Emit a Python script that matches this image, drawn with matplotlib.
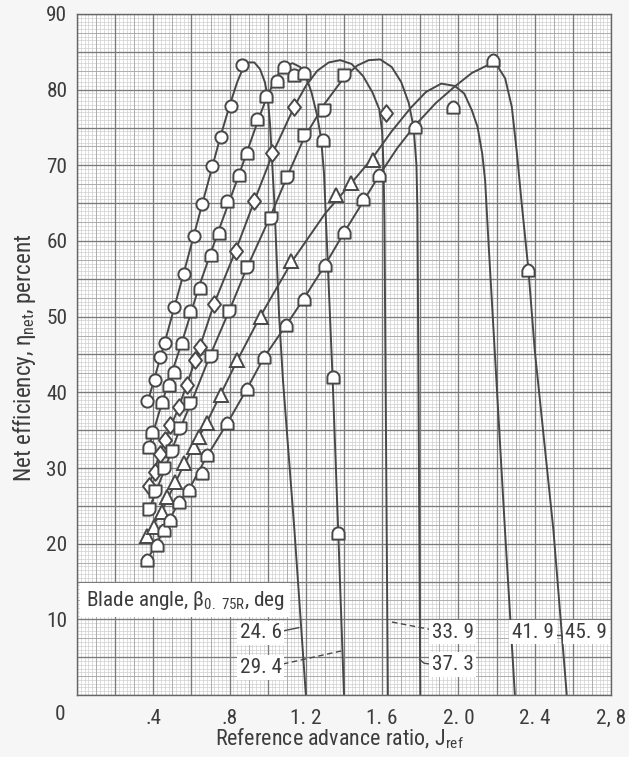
import numpy as np
import matplotlib
matplotlib.use("Agg")
import matplotlib.pyplot as plt
from matplotlib.path import Path
from matplotlib import font_manager

# ---------------------------------------------------------------- data
blade_angles = ["24. 6", "29. 4", "33. 9", "37. 3", "41. 9", "45. 9"]

# measured points (J_ref, eta_net %)
pts_246_x = [0.367, 0.41, 0.437, 0.463, 0.507, 0.56, 0.612, 0.656, 0.709, 0.753, 0.805, 0.867]
pts_246_y = [38.8, 41.6, 44.7, 46.5, 51.3, 55.6, 60.7, 64.9, 69.9, 73.8, 77.9, 83.3]

pts_294_x = [0.375, 0.393, 0.446, 0.481, 0.507, 0.551, 0.595, 0.643, 0.70, 0.744, 0.788,
             0.849, 0.893, 0.946, 0.99, 1.05, 1.086, 1.14, 1.19, 1.288, 1.34, 1.37]
pts_294_y = [32.8, 34.8, 38.7, 41.0, 42.7, 46.5, 50.7, 53.8, 58.2, 61.1, 65.3,
             68.7, 71.6, 76.1, 79.1, 81.1, 83.0, 81.9, 82.2, 73.3, 42.0, 21.4]

pts_339_x = [0.375, 0.41, 0.437, 0.463, 0.489, 0.533, 0.577, 0.621, 0.644, 0.718, 0.832,
             0.928, 1.025, 1.14, 1.62]
pts_339_y = [27.6, 29.5, 31.9, 33.7, 35.7, 38.1, 41.0, 44.3, 46.0, 51.7, 58.7,
             65.3, 71.6, 77.7, 76.9]

pts_373_x = [0.375, 0.41, 0.454, 0.498, 0.542, 0.595, 0.70, 0.796, 0.893, 1.016, 1.10,
             1.19, 1.296, 1.40]
pts_373_y = [24.6, 27.0, 30.0, 32.2, 35.3, 38.6, 44.8, 50.7, 56.5, 63.0, 68.5,
             74.0, 77.3, 81.9]

pts_419_x = [0.367, 0.402, 0.446, 0.472, 0.516, 0.56, 0.612, 0.638, 0.683, 0.753, 0.84,
             0.963, 1.12, 1.358, 1.437, 1.55]
pts_419_y = [21.0, 22.2, 24.2, 26.2, 28.2, 30.6, 32.8, 34.1, 35.9, 39.6, 44.3,
             50.0, 57.3, 66.1, 67.6, 70.7]

pts_459_x = [0.367, 0.419, 0.454, 0.489, 0.533, 0.586, 0.656, 0.683, 0.788, 0.893, 0.98,
             1.095, 1.19, 1.30, 1.40, 1.50, 1.586, 1.77, 1.97, 2.18, 2.367]
pts_459_y = [17.8, 19.8, 21.8, 23.1, 25.5, 27.1, 29.3, 31.7, 35.9, 40.4, 44.7,
             48.9, 52.4, 56.8, 61.2, 65.6, 68.7, 75.1, 77.7, 83.9, 56.2]

# faired curves
fair_246_x = [0.367, 0.46, 0.56, 0.66, 0.75, 0.80, 0.84, 0.87, 0.90, 0.93, 0.96, 0.985,
              1.00, 1.012, 1.022, 1.035, 1.06, 1.08, 1.14, 1.20]
fair_246_y = [38.4, 46.6, 55.8, 65.2, 73.6, 77.9, 81.0, 82.8, 83.6, 83.6, 82.7, 81.0,
              79.0, 75.5, 71.0, 65.0, 50.0, 41.6, 21.8, 0.0]

fair_294_x = [0.375, 0.45, 0.55, 0.64, 0.74, 0.85, 0.95, 1.00, 1.05, 1.09, 1.13, 1.17,
              1.20, 1.23, 1.26, 1.28, 1.295, 1.31, 1.34, 1.37, 1.40]
fair_294_y = [32.6, 39.0, 46.6, 54.0, 61.2, 68.8, 76.0, 79.3, 81.8, 83.1, 83.5, 83.0,
              81.8, 79.6, 76.5, 73.5, 69.0, 60.0, 42.0, 21.4, 0.0]

fair_339_x = [0.375, 0.45, 0.53, 0.62, 0.72, 0.83, 0.93, 1.03, 1.14, 1.20, 1.26, 1.32,
              1.38, 1.44, 1.50, 1.55, 1.585, 1.60, 1.607, 1.612, 1.63]
fair_339_y = [27.6, 33.0, 37.8, 44.2, 51.8, 58.6, 65.3, 71.8, 77.8, 80.5, 82.5, 83.6,
              83.9, 83.4, 81.8, 79.6, 77.4, 74.5, 70.0, 63.0, 0.0]

fair_373_x = [0.375, 0.45, 0.54, 0.60, 0.70, 0.80, 0.89, 1.02, 1.10, 1.19, 1.30, 1.40,
              1.47, 1.53, 1.59, 1.65, 1.70, 1.74, 1.765, 1.78, 1.785, 1.80]
fair_373_y = [24.4, 29.2, 35.2, 38.7, 45.0, 50.9, 56.4, 63.6, 68.4, 73.6, 78.2, 81.6,
              83.2, 83.9, 84.0, 83.0, 81.0, 78.2, 75.0, 70.0, 64.0, 0.0]

fair_419_x = [0.367, 0.45, 0.56, 0.68, 0.84, 0.96, 1.13, 1.30, 1.45, 1.55, 1.65, 1.75,
              1.83, 1.91, 1.98, 2.03, 2.07, 2.10, 2.125, 2.14, 2.155, 2.19, 2.244, 2.296]
fair_419_y = [21.0, 24.6, 30.4, 36.0, 44.2, 50.0, 57.4, 63.6, 68.0, 71.0, 74.5, 77.6,
              79.7, 80.8, 80.5, 79.5, 77.3, 75.1, 71.5, 68.0, 61.0, 45.6, 21.8, 0.0]

fair_459_x = [0.367, 0.45, 0.53, 0.59, 0.68, 0.79, 0.89, 0.98, 1.10, 1.19, 1.30, 1.40,
              1.50, 1.59, 1.68, 1.77, 1.88, 1.98, 2.07, 2.15, 2.20, 2.245, 2.28, 2.305,
              2.33, 2.367, 2.40, 2.498, 2.568]
fair_459_y = [17.8, 21.5, 25.3, 27.3, 31.5, 36.0, 40.4, 44.6, 49.0, 52.4, 56.8, 61.1,
              65.2, 68.9, 72.3, 75.2, 78.2, 80.4, 82.2, 83.2, 83.3, 81.5, 77.7, 72.0,
              65.4, 56.2, 45.6, 21.8, 0.0]

x_tick_vals = [0.4, 0.8, 1.2, 1.6, 2.0, 2.4, 2.8]
x_tick_text = [".4", ".8", "1. 2", "1. 6", "2. 0", "2. 4", "2, 8"]
y_tick_vals = [10, 20, 30, 40, 50, 60, 70, 80, 90]

# ---------------------------------------------------------------- fonts
ttf = font_manager.fontManager.ttflist
names = {f.name for f in ttf}
if "Liberation Sans Narrow" in names:
    FONT, STRETCH, K = "Liberation Sans Narrow", "normal", 1.0
elif "Roboto Condensed" in names:
    FONT, STRETCH, K = "Roboto Condensed", "normal", 1.07
elif any(f.name == "Roboto" and f.stretch == "condensed" for f in ttf):
    FONT, STRETCH, K = "Roboto", "condensed", 1.07
elif any(f.name == "DejaVu Sans" and f.stretch == "condensed" for f in ttf):
    FONT, STRETCH, K = "DejaVu Sans", "condensed", 0.95
else:
    FONT, STRETCH, K = "Liberation Sans", "normal", 0.93
FS = 14.3 * K        # tick labels and curve labels
FS_AX = 14.8 * K     # x-axis title
FS_Y = 15.6 * K      # y-axis title

plt.rcParams["font.family"] = [FONT, "DejaVu Sans"]
plt.rcParams["font.stretch"] = STRETCH
plt.rcParams["mathtext.fontset"] = "custom"
mt = FONT if STRETCH == "normal" else f"{FONT}:stretch={STRETCH}"
plt.rcParams["mathtext.rm"] = mt
plt.rcParams["mathtext.it"] = mt
plt.rcParams["mathtext.sf"] = mt

INK = "#484848"
TXT = "#3c3c3c"


def closed(verts):
    codes = [Path.MOVETO] + [Path.LINETO] * (len(verts) - 2) + [Path.CLOSEPOLY]
    return Path(verts, codes)


def tombstone():
    t = np.linspace(0, np.pi, 16)
    return closed([(-1, -1), (1, -1), (1, 0)] + [(np.cos(a), np.sin(a)) for a in t[1:-1]]
                  + [(-1, 0), (-1, -1)])


def house():
    return closed([(-1, -1), (1, -1), (1, 0.05), (0.75, 0.55), (0.35, 0.9), (0, 1.0),
                   (-0.35, 0.9), (-0.75, 0.55), (-1, 0.05), (-1, -1)])


def cut_square():
    t = np.linspace(0, -np.pi / 2, 10)
    return closed([(-1, 1), (1, 1), (1, 0)] + [(np.cos(a), np.sin(a)) for a in t[1:-1]]
                  + [(0, -1), (-1, -1), (-1, 1)])


def diamond():
    return closed([(0, 1), (0.78, 0), (0, -1), (-0.78, 0), (0, 1)])


fig = plt.figure(figsize=(6.29, 7.57), dpi=100, facecolor="#f6f6f6")
ax = fig.add_axes([77 / 629, 1 - 695 / 757, 534 / 629, 681 / 757])
ax.set_facecolor("white")
ax.set_xlim(0, 2.8)
ax.set_ylim(0, 90)

# graph-paper grid
fine_x = np.arange(0, 2.8001, 0.02)
fine_y = np.arange(0, 90.001, 0.5)
ax.vlines(fine_x, 0, 90, colors="#cbcbcb", linewidth=0.45, zorder=0)
ax.hlines(fine_y, 0, 2.8, colors="#cbcbcb", linewidth=0.45, zorder=0)
ax.vlines(np.arange(0.1, 2.8, 0.2), 0, 90, colors="#a6a6a6", linewidth=0.6, zorder=0)
ax.hlines(np.arange(2.5, 90, 5), 0, 2.8, colors="#a6a6a6", linewidth=0.6, zorder=0)
ax.vlines(np.arange(0, 2.8001, 0.2), 0, 90, colors="#7a7a7a", linewidth=0.95, zorder=0)
ax.hlines(np.arange(0, 90.001, 5), 0, 2.8, colors="#7a7a7a", linewidth=0.95, zorder=0)

for s in ax.spines.values():
    s.set_color("#666666")
    s.set_linewidth(1.0)

series = [
    (fair_246_x, fair_246_y, pts_246_x, pts_246_y, "o", 8.8),
    (fair_294_x, fair_294_y, pts_294_x, pts_294_y, tombstone(), 8.8),
    (fair_339_x, fair_339_y, pts_339_x, pts_339_y, diamond(), 12),
    (fair_373_x, fair_373_y, pts_373_x, pts_373_y, cut_square(), 8.8),
    (fair_419_x, fair_419_y, pts_419_x, pts_419_y, "^", 9.5),
    (fair_459_x, fair_459_y, pts_459_x, pts_459_y, house(), 8.8),
]
for fx, fy, px, py, mk, ms in series:
    ax.plot(fx, fy, color=INK, linewidth=1.4, zorder=2, solid_capstyle="butt")
    ax.plot(px, py, linestyle="none", marker=mk, markersize=ms, markerfacecolor="white",
            markeredgecolor=INK, markeredgewidth=1.4, zorder=3)

# ticks
ax.set_xticks(x_tick_vals)
ax.set_xticklabels(x_tick_text)
ax.set_yticks(y_tick_vals)
ax.set_yticklabels([str(v) for v in y_tick_vals])
ax.tick_params(length=0, labelsize=FS, colors=TXT, pad=10)
ax.tick_params(axis="y", pad=7)
fig.text(60 / 629, 1 - 714 / 757, "0", fontsize=FS, color=TXT, ha="center", va="center")

fig.text(215 / 629, 1 - 745 / 757, r"Reference advance ratio, $\mathrm{J_{ref}}$",
         fontsize=FS_AX, color=TXT, ha="left", va="baseline")
fig.text(25 / 629, 1 - 358 / 757, r"Net efficiency, $\eta_{\mathrm{net}}$, percent",
         fontsize=FS_Y, color=TXT, ha="center", va="center", rotation=90)

# legend caption and curve labels
box = dict(facecolor="white", edgecolor="none", pad=2.0)
ax.text(0.045, 12.5, r"Blade angle, $\beta_{\mathrm{0.\ 75R}}$, deg", fontsize=FS, color=TXT,
        ha="left", va="center", bbox=dict(facecolor="white", edgecolor="none", pad=4), zorder=4)

label_pos = {
    "24. 6": (0.963, 8.2), "29. 4": (0.963, 3.6), "33. 9": (1.97, 8.3),
    "37. 3": (1.97, 4.0), "41. 9": (2.39, 8.3), "45. 9": (2.67, 8.3),
}
for name in blade_angles:
    x, y = label_pos[name]
    ax.text(x, y, name, fontsize=FS, color=TXT, ha="center", va="center", bbox=box, zorder=4)

lk = dict(color=INK, linewidth=1.0, zorder=3)
ax.plot([1.085, 1.163], [8.5, 8.9], **lk)
ax.plot([1.08, 1.40], [4.1, 5.9], linestyle=(0, (4, 2.5)), **lk)
ax.plot([1.866, 1.64], [8.6, 9.7], linestyle=(0, (4, 2.5)), **lk)
ax.plot([1.875, 1.82, 1.796], [4.0, 4.2, 4.7], **lk)
ax.plot([2.505, 2.53], [7.9, 7.9], **lk)

fig.savefig("out.png", dpi=100, facecolor=fig.get_facecolor())
